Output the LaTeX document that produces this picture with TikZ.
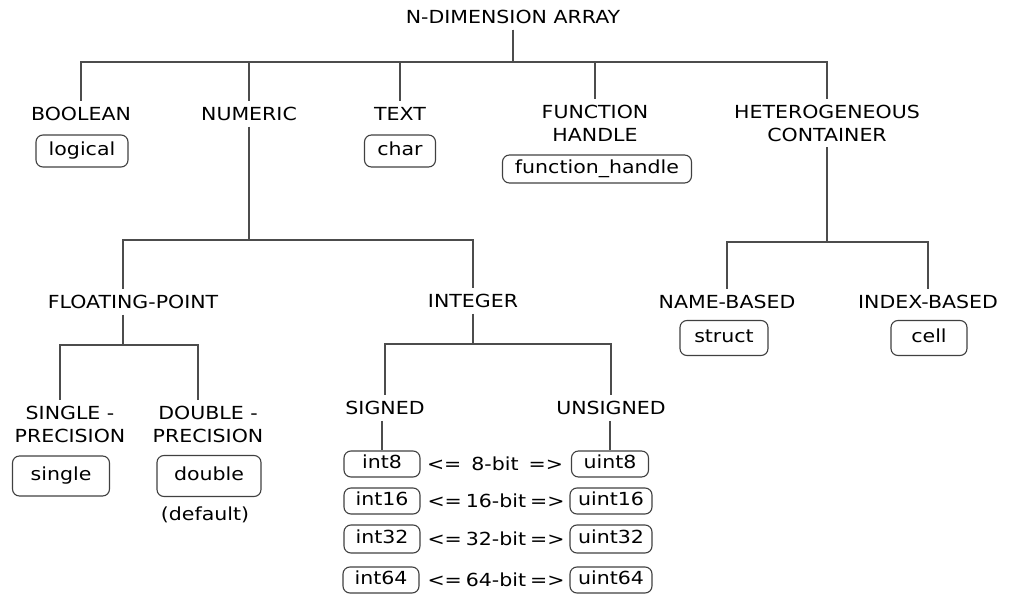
\documentclass[tikz,border=0pt]{standalone}
\usepackage{fontspec}
\setmainfont{DejaVu Sans}[FakeStretch=1.14]
\usetikzlibrary{positioning}

\begin{document}
\begin{tikzpicture}[x=1pt,y=-1pt,
    every node/.style={font=\fontsize{18}{23}\selectfont},
    lbl/.style={inner sep=2pt, outer sep=4pt, align=center},
    typebox/.style={draw=black!75, line width=1.1pt, rounded corners=7pt,
        inner sep=0pt, text height=13pt, text depth=4pt, minimum height=#1},
    typebox/.default=32pt,
    tree/.style={draw=black!70, line width=1.3pt}]
    \useasboundingbox (0,0) rectangle (1021,594);

    % top level
    \node[lbl] (root) at (513,17) {N-DIMENSION ARRAY};
    \node[lbl] (bool) at (81,114) {BOOLEAN};
    \node[lbl] (num) at (249,114) {NUMERIC};
    \node[lbl] (txt) at (400,114) {TEXT};
    \node[lbl] (fun) at (595,123.5) {FUNCTION\\HANDLE};
    \node[lbl] (het) at (827,123) {HETEROGENEOUS\\CONTAINER};

    \node[typebox, minimum width=92pt] (logical) at (82,151) {logical};
    \node[typebox, minimum width=71pt] (char) at (400,151) {char};
    \node[typebox=28pt, minimum width=189pt] (fhandle) at (597,169) {function\_handle};

    % second level
    \node[lbl] (float) at (133,302) {FLOATING-POINT};
    \node[lbl] (intg) at (473,301) {INTEGER};
    \node[lbl] (name) at (727,302) {NAME-BASED};
    \node[lbl] (index) at (928,302) {INDEX-BASED};

    \node[typebox=35pt, minimum width=88pt] (struct) at (724,338) {struct};
    \node[typebox=35pt, minimum width=76pt] (cell) at (929,338) {cell};

    % floating point
    \node[lbl] (sgl) at (70,424) {SINGLE -\\PRECISION};
    \node[lbl] (dbl) at (208,424) {DOUBLE -\\PRECISION};
    \node[typebox=40pt, minimum width=97pt] (single) at (61,476) {single};
    \node[typebox=41pt, minimum width=104pt] (double) at (209,476) {double};
    \node (default) at (205,515) {(default)};

    % integer
    \node[lbl] (signed) at (385,408) {SIGNED};
    \node[lbl] (unsigned) at (611,408) {UNSIGNED};

    \node[typebox=26pt, minimum width=76pt] (int8) at (382,464) {int8};
    \node[typebox=26pt, minimum width=76pt] (int16) at (382,501) {int16};
    \node[typebox=28pt, minimum width=76pt] (int32) at (382,539) {int32};
    \node[typebox=26pt, minimum width=76pt] (int64) at (381,580) {int64};

    \node[typebox=26pt, minimum width=77pt] (uint8) at (610,464) {uint8};
    \node[typebox=26pt, minimum width=82pt] (uint16) at (611,501) {uint16};
    \node[typebox=28pt, minimum width=82pt] (uint32) at (611,539) {uint32};
    \node[typebox=26pt, minimum width=82pt] (uint64) at (611,580) {uint64};

    \node (bits8) at (495,464) {\makebox[136pt]{{<=}\hfill 8-bit\hfill{=>}}};
    \node (bits16) at (496,501) {\makebox[137pt]{{<=}\hfill 16-bit\hfill{=>}}};
    \node (bits32) at (496,539) {\makebox[137pt]{{<=}\hfill 32-bit\hfill{=>}}};
    \node (bits64) at (496,580) {\makebox[137pt]{{<=}\hfill 64-bit\hfill{=>}}};

    % buses
    \coordinate (bus1) at (0,62);
    \coordinate (bus2) at (0,240);
    \coordinate (bus3) at (0,242);
    \coordinate (bus4) at (0,345);
    \coordinate (bus5) at (0,344);

    \foreach \c in {bool,num,txt,fun,het}
        \draw[tree] (root.south) -- (root.south |- bus1) -| (\c.north);
    \draw[tree] (num.south) -- (num.south |- bus2) -| ([xshift=-10pt]float.north);
    \draw[tree] (num.south) -- (num.south |- bus2) -| (intg.north);
    \foreach \c in {name,index}
        \draw[tree] (het.south) -- (het.south |- bus3) -| (\c.north);
    \foreach \c in {sgl,dbl}
        \draw[tree] ([xshift=-10pt]float.south) -- ([xshift=-10pt]float.south |- bus4) -| ([xshift=-10pt]\c.north);
    \foreach \c in {signed,unsigned}
        \draw[tree] (intg.south) -- (intg.south |- bus5) -| (\c.north);
    \draw[tree] (int8.north |- signed.south) -- (int8.north);
    \draw[tree] (uint8.north |- unsigned.south) -- (uint8.north);

\end{tikzpicture}
\end{document}
